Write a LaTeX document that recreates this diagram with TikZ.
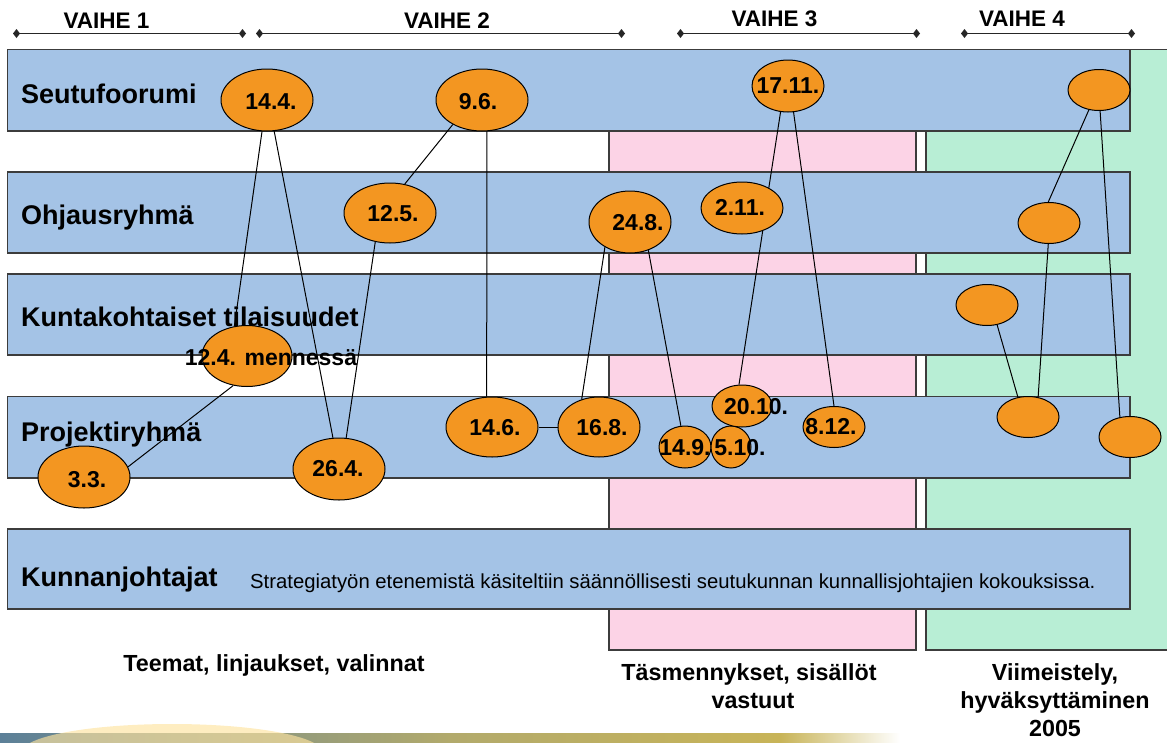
\documentclass[tikz,border=0pt]{standalone}
\usepackage{fontspec}
\setmainfont{Liberation Sans}
\usetikzlibrary{shapes.geometric,arrows.meta}
\definecolor{bandblue}{RGB}{164,195,230}
\definecolor{phpink}{RGB}{252,211,230}
\definecolor{phgreen}{RGB}{184,238,213}
\definecolor{dotorange}{RGB}{243,150,33}
\definecolor{edgegray}{RGB}{60,60,60}
\definecolor{stripA}{RGB}{92,128,152}
\definecolor{stripB}{RGB}{178,170,108}
\definecolor{stripC}{RGB}{200,180,88}
\definecolor{arcyellow}{RGB}{253,227,160}
\begin{document}
\begin{tikzpicture}[x=1pt,y=-1pt,
  band/.style={draw=edgegray,line width=1.2pt,fill=bandblue},
  region/.style={draw=edgegray,line width=1.2pt},
  phase/.style={line width=1.1pt,draw=black!85,
    arrows={Turned Square[length=7pt,width=9pt]-Turned Square[length=7pt,width=9pt]}},
  phaselbl/.style={font=\bfseries\fontsize{22.5}{26}\selectfont,inner sep=0pt},
  bandlbl/.style={font=\bfseries\fontsize{27}{30}\selectfont,inner sep=0pt,anchor=base west},
  notelbl/.style={font=\fontsize{20.3}{24}\selectfont,inner sep=0pt,anchor=base west},
  bottomlbl/.style={font=\bfseries\fontsize{23.3}{28}\selectfont,inner sep=0pt,anchor=base},
  dot/.style n args={2}{ellipse,draw=black,line width=1pt,fill=dotorange,inner sep=0pt,
    minimum width=#1,minimum height=#2},
  lbl/.style={font=\bfseries\fontsize{23}{26}\selectfont,inner sep=0pt},
  conn/.style={draw=black,line width=1pt}]
\useasboundingbox (0,0) rectangle (1167,742);

% phase regions
\path[region,fill=phpink] (609,49.5) rectangle (916,650);
\path[region,fill=phgreen] (926,49.5) rectangle (1172,650);

% bands
\path[band] (7.5,49.5) rectangle (1130,131);
\path[band] (7.5,172) rectangle (1130,253);
\path[band] (7.5,274) rectangle (1130,355);
\path[band] (7.5,396.5) rectangle (1130,478);
\path[band] (7.5,529) rectangle (1130,609);

% band labels
\node[bandlbl] (l1) at (21,103) {Seutufoorumi};
\node[bandlbl] (l2) at (21,224) {Ohjausryhmä};
\node[bandlbl] (l3) at (21,326) {Kuntakohtaiset tilaisuudet};
\node[bandlbl] (l4) at (21,441) {Projektiryhmä};
\node[bandlbl] (l5) at (21,586) {Kunnanjohtajat};
\node[notelbl] (note) at (250,588) {Strategiatyön etenemistä käsiteltiin säännöllisesti seutukunnan kunnallisjohtajien kokouksissa.};

% phase headers
\coordinate (v1a) at (13,33.5);  \coordinate (v1b) at (246,33.5);
\coordinate (v2a) at (256,33.5); \coordinate (v2b) at (625,33.5);
\coordinate (v3a) at (677,33.5); \coordinate (v3b) at (920,33.5);
\coordinate (v4a) at (961,33.5); \coordinate (v4b) at (1135,33.5);
\draw[phase] (v1a) -- (v1b);
\draw[phase] (v2a) -- (v2b);
\draw[phase] (v3a) -- (v3b);
\draw[phase] (v4a) -- (v4b);
\node[phaselbl] (h1) at (106.5,20.5) {VAIHE 1};
\node[phaselbl] (h2) at (447,20.5) {VAIHE 2};
\node[phaselbl] (h3) at (774.5,18.5) {VAIHE 3};
\node[phaselbl] (h4) at (1022,18.5) {VAIHE 4};

% ellipses
\node[dot={92pt}{62pt}] (d144) at (267,100) {};
\node[dot={92pt}{62pt}] (d96) at (482,100) {};
\node[dot={92pt}{60pt}] (d125) at (390,213) {};
\node[dot={82pt}{62pt}] (d248) at (630,222) {};
\node[dot={82pt}{52pt}] (d211) at (742,208) {};
\node[dot={72pt}{52pt}] (d1711) at (788,86) {};
\node[dot={62pt}{41pt}] (s1) at (1099,90) {};
\node[dot={62pt}{41pt}] (s2) at (1049,223) {};
\node[dot={62pt}{41pt}] (s3) at (987,305) {};
\node[dot={62pt}{41pt}] (s4) at (1028,417) {};
\node[dot={62pt}{41pt}] (s5) at (1130,437) {};
\node[dot={90pt}{61pt}] (d124) at (247,356) {};
\node[dot={92pt}{62pt}] (d264) at (339,469) {};
\node[dot={92pt}{62pt}] (d33) at (84,477) {};
\node[dot={92pt}{60pt}] (d146) at (492,427) {};
\node[dot={82pt}{60pt}] (d168) at (599,427) {};
\node[dot={52pt}{42pt}] (d149) at (685,447) {};
\node[dot={40pt}{42pt}] (d510) at (731,447) {};
\node[dot={60pt}{42pt}] (d2010) at (742,406) {};
\node[dot={62pt}{41pt}] (d812) at (834,427) {};

% connectors
\draw[conn] (d144.-99) -- (d124.113);
\draw[conn] (d144.-77) -- (d264.101);
\draw[conn] (d96.-140) -- (d125.63);
\draw[conn] (d96.-81) -- (d146.100);
\draw[conn] (d125.-117) -- (d264.77);
\draw[conn] (d33.13) -- (d124.-115);
\draw[conn] (d146.east) -- (d168.west);
\draw[conn] (d248.-135) -- (d168.122);
\draw[conn] (d248.-57) -- (d149.101);
\draw[conn] (d1711.-106) -- (d211.37);
\draw[conn] (d211.-48) -- (d2010.98);
\draw[conn] (d1711.-78) -- (d812.90);
\draw[conn] (s1.-117) -- (s2.92);
\draw[conn] (s1.-87) -- (s5.117);
\draw[conn] (s2.-92) -- (s4.63);
\draw[conn] (s3.-63) -- (s4.117);

% ellipse labels
\node[lbl] (t144) at (271,102) {14.4.};
\node[lbl] (t96) at (478,102) {9.6.};
\node[lbl] (t125) at (393,214) {12.5.};
\node[lbl] (t248) at (638,223) {24.8.};
\node[lbl] (t211) at (740,207) {2.11.};
\node[lbl] (t1711) at (788,86) {17.11.};
\node[lbl] (t124) at (271,358) {12.4. mennessä};
\node[lbl] (t264) at (338,469) {26.4.};
\node[lbl] (t33) at (87,480) {3.3.};
\node[lbl] (t146) at (495,428) {14.6.};
\node[lbl] (t168) at (602,428) {16.8.};
\node[lbl] (t149) at (685,448) {14.9.};
\node[lbl] (t510) at (740,448) {5.10.};
\node[lbl] (t2010) at (756,407) {20.10.};
\node[lbl] (t812) at (831,427) {8.12.};

% bottom labels
\node[bottomlbl] (b1) at (274,671) {Teemat, linjaukset, valinnat};
\node[bottomlbl] (b2a) at (749,680) {Täsmennykset, sisällöt};
\node[bottomlbl] (b2b) at (753,708) {vastuut};
\node[bottomlbl] (b3a) at (1055,680) {Viimeistely,};
\node[bottomlbl] (b3b) at (1055,708) {hyväksyttäminen};
\node[bottomlbl] (b3c) at (1055,736.5) {2005};

% bottom decoration strip
\begin{scope}
\clip (0,0) rectangle (1167,742);
\shade[left color=stripA,right color=stripB] (0,733) rectangle (450.5,742);
\shade[left color=stripB,right color=stripC] (450,733) rectangle (780.5,742);
\shade[left color=stripC,right color=white] (780,733) rectangle (900,742);
\fill[arcyellow,opacity=0.65] (172,752) ellipse [x radius=150pt,y radius=28pt];
\end{scope}
\end{tikzpicture}
\end{document}
